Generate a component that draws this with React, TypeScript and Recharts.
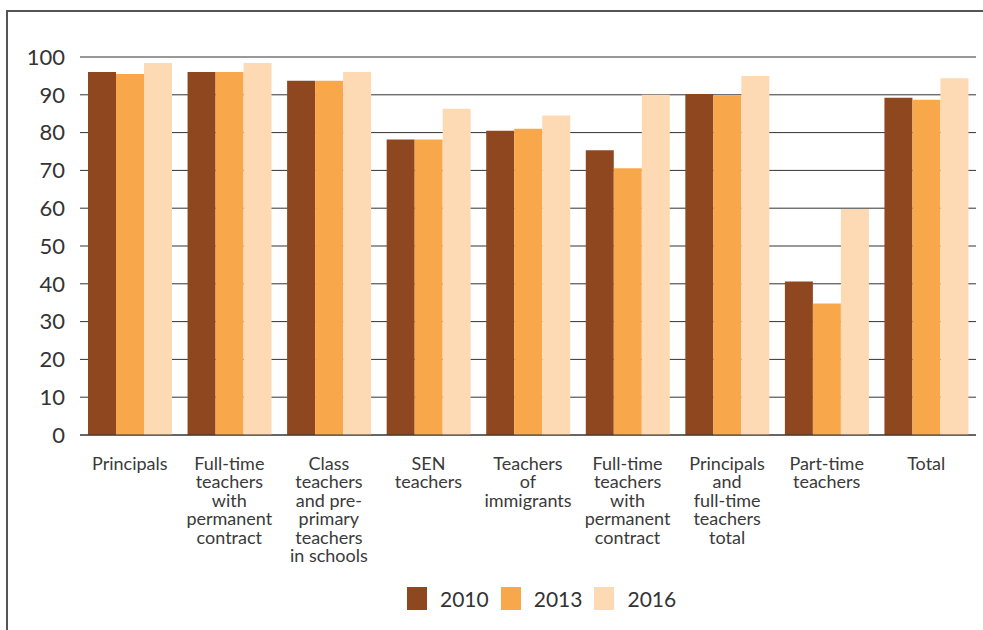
import React from "react";
import { BarChart, Bar, XAxis, YAxis, CartesianGrid } from "recharts";

const categories = [
  "Principals",
  "Full-time teachers with permanent contract",
  "Class teachers and pre-primary teachers in schools",
  "SEN teachers",
  "Teachers of immigrants",
  "Full-time teachers with permanent contract (2)",
  "Principals and full-time teachers total",
  "Part-time teachers",
  "Total",
];

// how each label wraps under the axis
const tickLines = [
  ["Principals"],
  ["Full-time", "teachers", "with", "permanent", "contract"],
  ["Class", "teachers", "and pre-", "primary", "teachers", "in schools"],
  ["SEN", "teachers"],
  ["Teachers", "of", "immigrants"],
  ["Full-time", "teachers", "with", "permanent", "contract"],
  ["Principals", "and", "full-time", "teachers", "total"],
  ["Part-time", "teachers"],
  ["Total"],
];

const values2010 = [96, 96, 93.7, 78.2, 80.5, 75.3, 90.2, 40.6, 89.2];
const values2013 = [95.5, 96, 93.7, 78.2, 81, 70.6, 89.8, 34.8, 88.7];
const values2016 = [98.4, 98.4, 96, 86.3, 84.5, 90, 95, 59.8, 94.4];

const yTicks = [0, 10, 20, 30, 40, 50, 60, 70, 80, 90, 100];

const series = [
  { key: "y2010", name: "2010", color: "#8f4720" },
  { key: "y2013", name: "2013", color: "#f9a74b" },
  { key: "y2016", name: "2016", color: "#fddab3" },
];

const data = categories.map((c, i) => ({
  category: c,
  y2010: values2010[i],
  y2013: values2013[i],
  y2016: values2016[i],
}));

const FONT = "Lato, 'DejaVu Sans', sans-serif";

function CategoryTick(props: any) {
  const { x, y, payload } = props;
  const lines = tickLines[payload.index] || [];
  return (
    <text
      x={x}
      y={y + 27}
      textAnchor="middle"
      fill="#3a3a3a"
      fontSize={18}
      fontFamily={FONT}
    >
      {lines.map((l, i) => (
        <tspan key={i} x={x} dy={i === 0 ? 0 : 18.4}>
          {l}
        </tspan>
      ))}
    </text>
  );
}

export default function App() {
  return (
    <div
      style={{
        position: "fixed",
        left: 0,
        top: 0,
        width: 983,
        height: 630,
        overflow: "hidden",
        background: "#fff",
        fontFamily: FONT,
      }}
    >
      <div
        style={{
          position: "absolute",
          left: 6,
          top: 10,
          width: 1100,
          height: 800,
          border: "2px solid #555",
        }}
      />
      <div style={{ position: "absolute", left: 0, top: 0 }}>
        <BarChart
          width={983}
          height={630}
          data={data}
          margin={{ top: 57, right: 7, left: 0, bottom: 0 }}
          barCategoryGap={8}
          barGap={0}
        >
          <CartesianGrid vertical={false} stroke="#333" strokeWidth={1} />
          <XAxis
            dataKey="category"
            axisLine={{ stroke: "#333" }}
            tickLine={false}
            interval={0}
            tick={<CategoryTick />}
            height={195}
          />
          <YAxis
            domain={[0, 100]}
            ticks={yTicks}
            width={80}
            axisLine={false}
            tickLine={false}
            tickSize={0}
            tickMargin={15}
            tick={{ fontSize: 22, fill: "#333", fontFamily: FONT }}
          />
          {series.map((s) => (
            <Bar
              key={s.key}
              dataKey={s.key}
              name={s.name}
              fill={s.color}
              isAnimationActive={false}
            />
          ))}
        </BarChart>
      </div>
      <div
        style={{
          position: "absolute",
          left: 407,
          top: 587,
          display: "flex",
          alignItems: "center",
        }}
      >
        {series.map((s) => (
          <div
            key={s.key}
            style={{ display: "flex", alignItems: "center", marginRight: 12 }}
          >
            <div style={{ width: 20, height: 23, background: s.color }} />
            <span
              style={{
                marginLeft: 13,
                fontSize: 21,
                color: "#333",
                lineHeight: "23px",
              }}
            >
              {s.name}
            </span>
          </div>
        ))}
      </div>
    </div>
  );
}
